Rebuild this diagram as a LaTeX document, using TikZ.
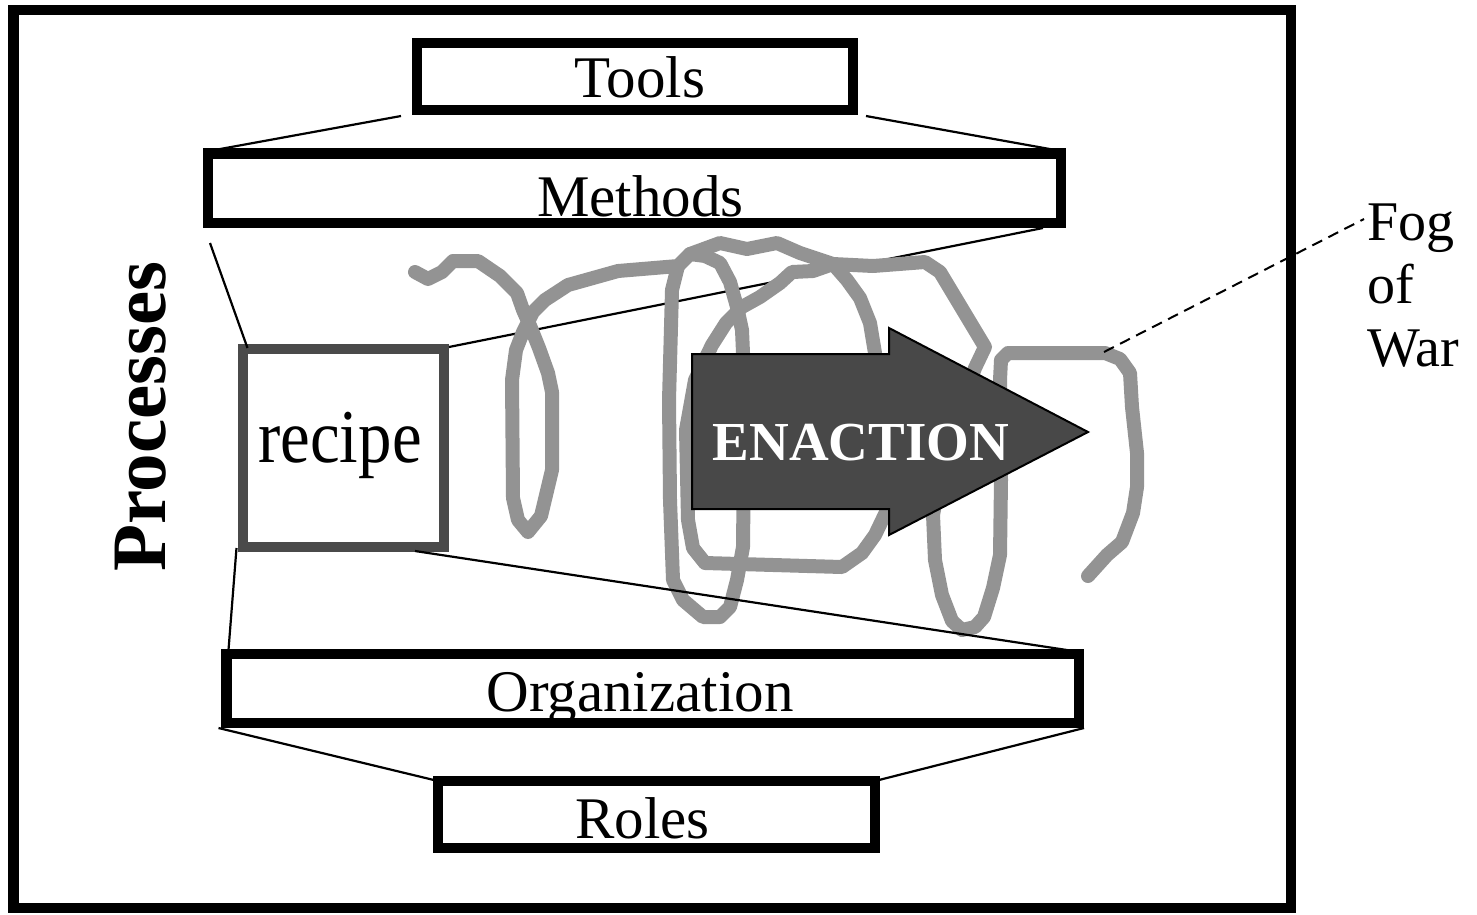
\documentclass[tikz,border=0pt]{standalone}
\usepackage{fontspec}
\setmainfont{Liberation Serif}
\usetikzlibrary{calc}
\definecolor{fogc}{RGB}{147,147,147}
\definecolor{recc}{RGB}{74,74,74}
\definecolor{arrc}{RGB}{72,72,72}
\tikzset{
  box/.style={draw=black, line width=10.5pt, inner sep=0pt, outer sep=0pt, fill=none},
  lab/.style={font=\fontsize{59}{70}\selectfont, anchor=base, inner sep=0pt},
  conn/.style={line width=2.2pt},
  fogline/.style={draw=fogc, line width=14pt, line join=round, line cap=round},
}
\begin{document}
\begin{tikzpicture}[x=1pt,y=-1pt]
\useasboundingbox (0,0) rectangle (1477,914);
% frame
\node[box, line width=10.7pt, minimum width=1277.5pt, minimum height=898pt] (frame) at (652.25,459) {};
% boxes
\node[box, minimum width=436pt, minimum height=67pt] (tools) at (635,76.5) {};
\node[box, minimum width=853pt, minimum height=69.5pt] (methods) at (634.5,188.25) {};
\node[box, draw=recc, line width=10pt, minimum width=201.5pt, minimum height=198pt] (recipe) at (343.25,448) {};
\node[box, minimum width=852.5pt, minimum height=69pt] (org) at (652.75,688.5) {};
\node[box, minimum width=437pt, minimum height=67pt] (roles) at (656.5,814.5) {};
% connectors (under the fog)
\draw[conn] ($(tools.south west)+(-16,6)$) -- ($(methods.north west)+(4,-3)$);
\draw[conn] ($(tools.south east)+(13,6)$) -- ($(methods.north east)+(-3,-3)$);
\draw[conn] ($(methods.south west)+(2,20)$) -- ($(recipe.north west)+(5,-1)$);
\draw[conn] ($(methods.south east)+(-18,5)$) -- ($(recipe.north east)+(5,-2)$);
% fog of war scribble
\draw[fogline] (415,272) -- (428,279) -- (442,272) -- (453,261) -- (478,261) -- (500,276) -- (517,293) -- (523,310) -- (531,328) -- (539,348) -- (548,373) -- (552,392) -- (552,470) -- (541,516) -- (528,532) -- (518,520) -- (513,498) -- (512,380) -- (516,350) -- (523,332) -- (533,312) -- (545,300) -- (568,285) -- (618,271) -- (678,266) -- (690,254) -- (720,243) -- (747,249) -- (777,243) -- (800,253) -- (833,264) -- (873,266) -- (925,262) -- (940,272) -- (964,312) -- (985,347) -- (975,368) -- (945,450) -- (933,515) -- (935,560) -- (942,595) -- (952,621) -- (962,630) -- (975,627) -- (984,617) -- (993,588) -- (1000,555) -- (1001,480) -- (1000,380) -- (1001,360) -- (1008,353) -- (1105,353) -- (1120,359) -- (1130,373) -- (1132,407) -- (1137,453) -- (1137,487) -- (1133,513) -- (1122,542) -- (1107,555) -- (1088,576);
\draw[fogline] (678,266) -- (672,290) -- (669,400) -- (670,500) -- (673,580) -- (683,600) -- (703,617) -- (720,617) -- (730,607) -- (737,580) -- (743,547) -- (744,450) -- (743,353) -- (742,330) -- (737,307) -- (730,282) -- (720,263) -- (705,256) -- (690,254);
\draw[fogline] (833,264) -- (847,280) -- (860,298) -- (870,323) -- (875,353) -- (885,450) -- (887,510) -- (875,535) -- (862,553) -- (842,567) -- (705,563) -- (693,548) -- (688,520) -- (686,430) -- (695,380) -- (712,345) -- (726,323) -- (742,307) -- (760,297) -- (780,283) -- (792,272) -- (813,271) -- (833,264);
\coordinate (fogpt) at (1104,352);
% connectors over the fog
\draw[conn] ($(recipe.south west)+(-6,1)$) -- ($(org.north west)+(2,-4)$);
\draw[conn] ($(recipe.south east)+(-29,4)$) -- ($(org.north east)+(1,-2)$);
\draw[conn] ($(org.south west)+(-8,5)$) -- (roles.north west);
\draw[conn] ($(org.south east)+(5,5)$) -- (roles.north east);
% enaction arrow
\draw[fill=arrc, draw=black, line width=2pt, line join=miter] (692,354) -- (889,354) -- (889,328) -- (1088,432) -- (889,535) -- (889,509) -- (692,509) -- cycle;
\node[font=\fontsize{55}{66}\selectfont\bfseries, text=white, anchor=base, inner sep=0pt] (enaction) at (861,460) {ENACTION};
% labels
\node[lab] (toolsT) at (640,97) {Tools};
\node[lab] (methodsT) at (640.5,216) {Methods};
\node[lab] (orgT) at (640,711) {Organization};
\node[lab] (rolesT) at (642.5,838) {Roles};
\node[anchor=base, inner sep=0pt, font=\fontsize{76}{90}\selectfont] (recipeT) at (340,462) {\scalebox{0.88}[1]{recipe}};
\node[anchor=base, inner sep=0pt, rotate=90, font=\fontsize{77}{90}\selectfont\bfseries] (proc) at (165,416.5) {Processes};
\node[anchor=north west, inner sep=0pt, outer sep=0pt, align=left, font=\fontsize{56}{63}\selectfont] (fog) at (1367,204) {Fog\\of\\War};
\draw[line width=2pt, dash pattern=on 11pt off 7pt] (fogpt) -- ($(fog.north west)+(-3,15)$);
\end{tikzpicture}
\end{document}
